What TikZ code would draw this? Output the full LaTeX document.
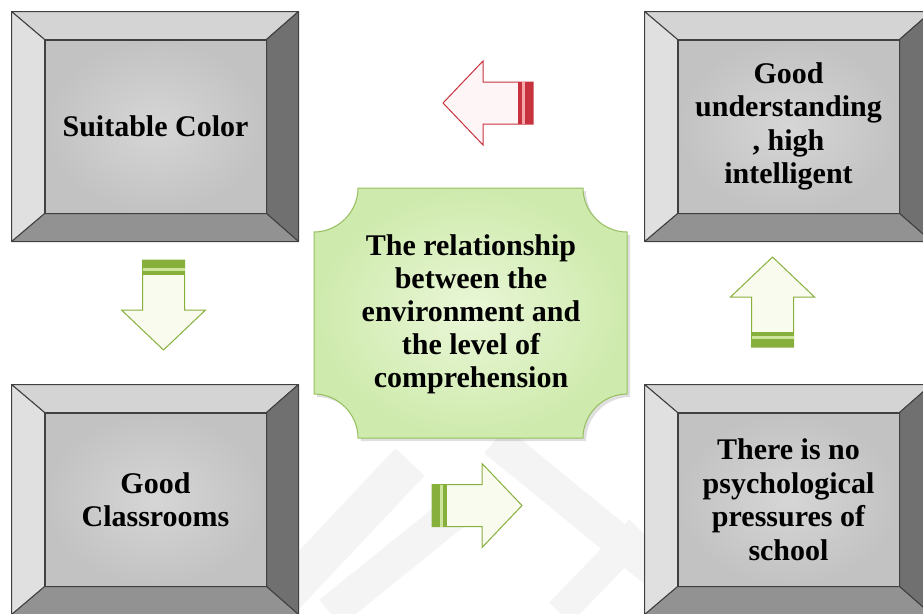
\documentclass[tikz,border=0pt]{standalone}
\usepackage{fontspec}
\setmainfont{Liberation Serif}
\usetikzlibrary{positioning,calc,shadows}

\definecolor{boxline}{RGB}{64,64,64}
\definecolor{bevtop}{RGB}{212,212,212}
\definecolor{bevleft}{RGB}{224,224,224}
\definecolor{bevright}{RGB}{112,112,112}
\definecolor{bevbottom}{RGB}{146,146,146}
\definecolor{facedark}{RGB}{194,194,194}
\definecolor{facelight}{RGB}{214,214,214}
\definecolor{plaqueline}{RGB}{150,190,95}
\definecolor{plaquedark}{RGB}{206,234,172}
\definecolor{plaquelight}{RGB}{234,247,216}
\definecolor{arrowgreen}{RGB}{135,175,60}
\definecolor{stripegreen}{RGB}{204,228,156}
\definecolor{fillgreen}{RGB}{248,251,238}
\definecolor{arrowred}{RGB}{200,50,62}
\definecolor{stripered}{RGB}{246,166,166}
\definecolor{fillred}{RGB}{254,246,246}
\definecolor{markgray}{RGB}{244,244,244}

\tikzset{
  face/.style={minimum width=221pt, minimum height=173pt, inner sep=0pt,
    align=center, draw=boxline, line width=1pt,
    inner color=facelight, outer color=facedark,
    font=\fontsize{30}{33.5}\selectfont\bfseries},
  bevel/.style={draw=boxline, line width=1pt, line join=round},
  plaque/.style={draw=plaqueline, line width=1pt,
    inner color=plaquelight, outer color=plaquedark,
    drop shadow={opacity=0.25, shadow xshift=3pt, shadow yshift=-3pt}},
  topic/.style={align=center, font=\fontsize{30}{33}\selectfont\bfseries},
  watermark/.style={draw=markgray, line cap=butt},
}

% bevelled frame round a face node (left 33, top 28, right 32, bottom 28)
\newcommand{\bevelframe}[1]{%
  \coordinate (#1-a) at ($(#1.north west)+(-33,-28)$);
  \coordinate (#1-b) at ($(#1.north east)+(32,-28)$);
  \coordinate (#1-c) at ($(#1.south east)+(32,28)$);
  \coordinate (#1-d) at ($(#1.south west)+(-33,28)$);
  \filldraw[bevel, fill=bevtop] (#1-a) -- (#1-b) -- (#1.north east) -- (#1.north west) -- cycle;
  \filldraw[bevel, fill=bevright] (#1-b) -- (#1-c) -- (#1.south east) -- (#1.north east) -- cycle;
  \filldraw[bevel, fill=bevbottom] (#1-c) -- (#1-d) -- (#1.south west) -- (#1.south east) -- cycle;
  \filldraw[bevel, fill=bevleft] (#1-d) -- (#1-a) -- (#1.north west) -- (#1.south west) -- cycle;
}

% striped block arrow, tail at the origin, pointing along +x
\newcommand{\stripearrow}[3]{%
  \filldraw[draw=#1, fill=#3, line width=1pt, line join=miter]
    (0,-21) -- (50,-21) -- (50,-42) -- (90,0) -- (50,42) -- (50,21) -- (0,21) -- cycle;
  \fill[#1] (0,-21) rectangle (15,21);
  \fill[#2] (8,-21) rectangle (11,21);
}

\begin{document}
\begin{tikzpicture}[x=1pt, y=-1pt]
  \clip (0,0) rectangle (923,613);

  % faint watermark behind everything
  \draw[watermark, line width=40pt] (280,600) -- (410,462);
  \draw[watermark, line width=34pt] (495,440) -- (660,575);
  \draw[watermark, line width=34pt] (330,613) -- (470,500);
  \draw[watermark, line width=30pt] (560,613) -- (640,530);

  % the four bevelled boxes
  \node[face] (color) at (155.5,126.5) {Suitable Color};
  \node[face, right=411pt of color] (understand) {Good\\understanding\\, high\\intelligent};
  \node[face, below=199pt of color] (classroom) {Good\\Classrooms};
  \node[face, below=199pt of understand] (pressure) {There is no\\psychological\\pressures of\\school};

  \bevelframe{color}
  \bevelframe{understand}
  \bevelframe{classroom}
  \bevelframe{pressure}

  % centre plaque
  \path[plaque] (358,188) -- (583,188) .. controls (583,212) and (603,232) .. (627,232)
    -- (627,394) .. controls (603,394) and (583,414) .. (583,438)
    -- (358,438) .. controls (358,414) and (338,394) .. (314,394)
    -- (314,232) .. controls (338,232) and (358,212) .. (358,188) -- cycle;
  \node[topic] (relation) at (471,314) {The relationship\\between the\\environment and\\the level of\\comprehension};

  % block arrows
  \begin{scope}[shift={(533,103)}, rotate=180]
    \stripearrow{arrowred}{stripered}{fillred}
  \end{scope}
  \begin{scope}[shift={(163.5,260)}, rotate=-90]
    \stripearrow{arrowgreen}{stripegreen}{fillgreen}
  \end{scope}
  \begin{scope}[shift={(432,505.5)}]
    \stripearrow{arrowgreen}{stripegreen}{fillgreen}
  \end{scope}
  \begin{scope}[shift={(772.5,347)}, rotate=90]
    \stripearrow{arrowgreen}{stripegreen}{fillgreen}
  \end{scope}
\end{tikzpicture}
\end{document}
